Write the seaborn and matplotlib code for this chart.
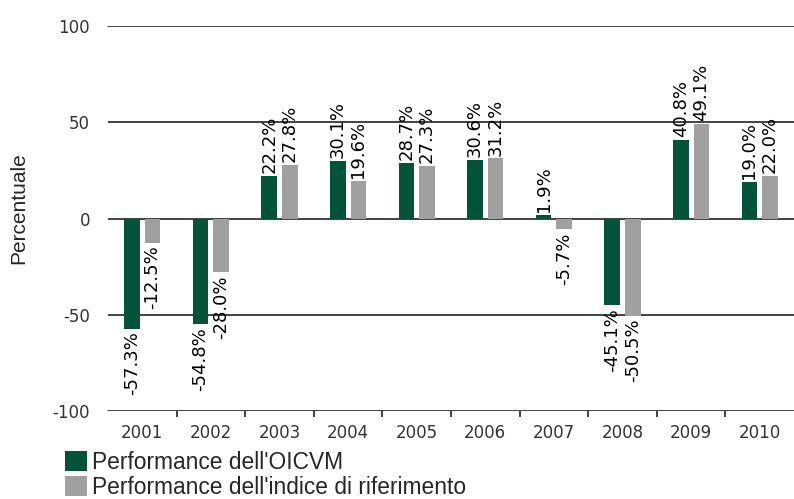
import matplotlib
matplotlib.use("Agg")
import matplotlib.pyplot as plt
import matplotlib.ticker as mticker
import pandas as pd
import seaborn as sns

years = ["2001", "2002", "2003", "2004", "2005", "2006", "2007", "2008", "2009", "2010"]
fund = [-57.3, -54.8, 22.2, 30.1, 28.7, 30.6, 1.9, -45.1, 40.8, 19.0]
bench = [-12.5, -28.0, 27.8, 19.6, 27.3, 31.2, -5.7, -50.5, 49.1, 22.0]
series = ["Performance dell'OICVM", "Performance dell'indice di riferimento"]
colors = ["#03523a", "#a0a0a0"]
yticks = [-100, -50, 0, 50, 100]

df = pd.DataFrame({
    "year": years * 2,
    "value": fund + bench,
    "serie": [series[0]] * len(years) + [series[1]] * len(years),
})

sns.set_style("white")
plt.rcParams["font.family"] = ["DejaVu Sans"]
plt.rcParams["axes.unicode_minus"] = False

fig = plt.figure(figsize=(7.94, 4.99), dpi=100)
ax = fig.add_axes([108 / 794, 88 / 499, 686 / 794, 385 / 499])

sns.barplot(data=df, x="year", y="value", hue="serie", order=years,
            hue_order=series, palette=colors, width=0.6, gap=0.24,
            saturation=1, errorbar=None, linewidth=0, ax=ax, legend=True)

# etichette valori ruotate
for cont, vals in zip(ax.containers, [fund, bench]):
    ax.bar_label(cont, labels=[f"{v:.1f}%" for v in vals], rotation=90,
                 padding=2, fontsize=13, color="black", clip_on=False)

ax.set_xlim(-0.5, len(years) - 0.5)
ax.set_ylim(-100, 100)
ax.set_yticks(yticks)
ax.yaxis.grid(True, color="#333333", linewidth=1.3)
ax.xaxis.grid(False)
ax.set_axisbelow(True)
for s in ax.spines.values():
    s.set_visible(False)

ax.tick_params(axis="y", length=0, pad=13, labelsize=12, labelcolor="#333333")
ax.tick_params(axis="x", which="major", length=0, pad=9, labelsize=12, labelcolor="#333333")
ax.xaxis.set_minor_locator(mticker.FixedLocator([i + 0.5 for i in range(len(years) - 1)]))
ax.tick_params(axis="x", which="minor", bottom=True, length=4.5, width=1.3, color="#333333", direction="out")

ax.set_xlabel("")
ax.set_ylabel("Percentuale", fontsize=15, family="Liberation Sans")
ax.yaxis.set_label_coords(-(108 - 28) / 686, 0.527)

handles, labels = ax.get_legend_handles_labels()
ax.get_legend().remove()
fig.legend(handles, labels, loc="upper left", bbox_to_anchor=(65 / 794, 1 - 451 / 499),
           bbox_transform=fig.transFigure, frameon=False, borderpad=0, borderaxespad=0,
           handlelength=0.97, handleheight=0.97, handletextpad=0.22, labelspacing=0.1,
           prop={"family": "Liberation Sans", "size": 16.4})

fig.savefig("out.png", dpi=100)
